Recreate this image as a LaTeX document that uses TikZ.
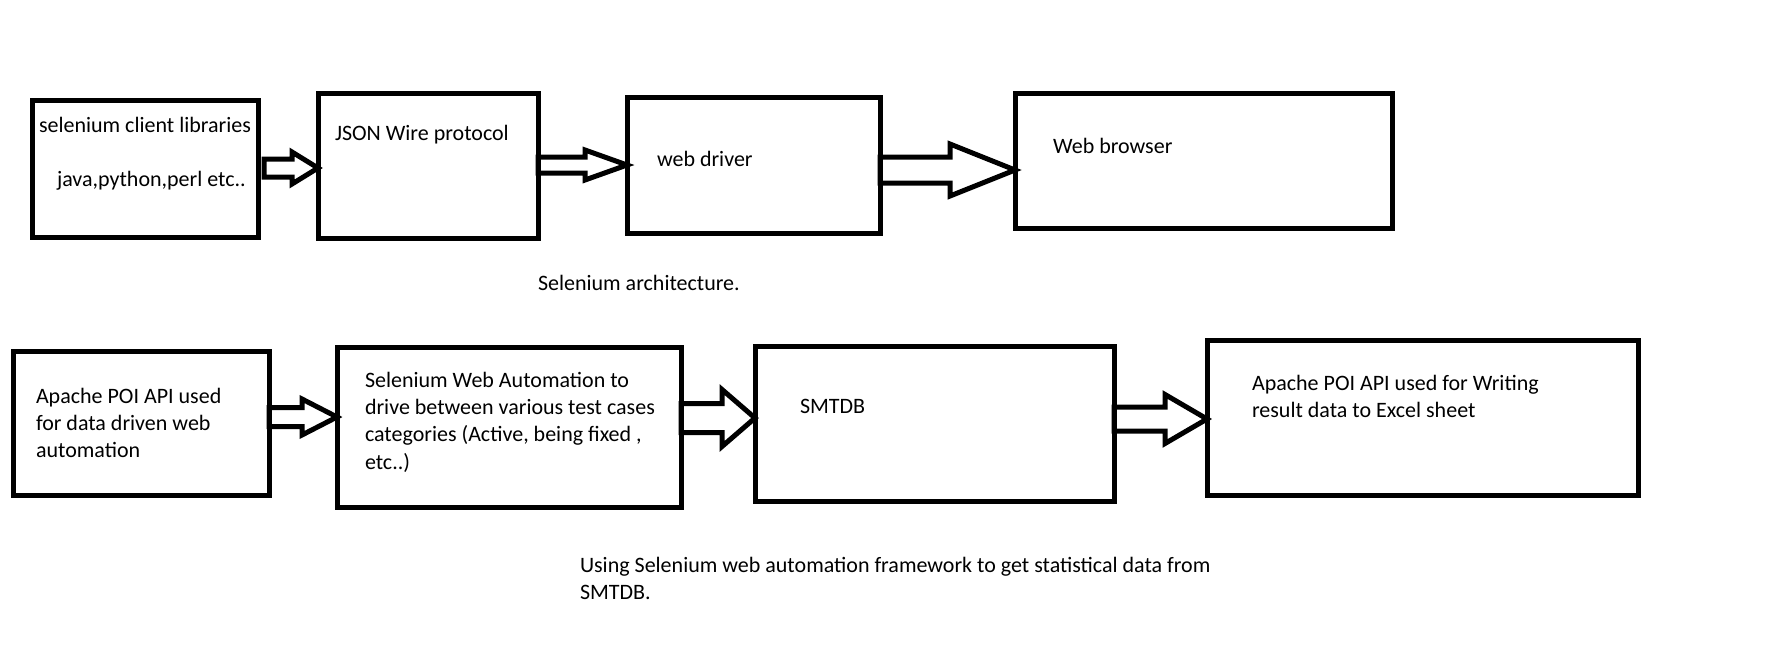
\documentclass[tikz,border=0pt]{standalone}
\usepackage{fontspec}
\setmainfont{Carlito}
\usetikzlibrary{calc}
\begin{document}
\begin{tikzpicture}[x=1pt,y=-1pt,
  box/.style={draw=black,line width=5pt,inner sep=0pt,outer sep=0pt,anchor=north west},
  txt/.style={anchor=base west,inner sep=0pt,outer sep=0pt,font=\fontsize{22}{27}\selectfont},
  blk/.style={draw=black,line width=5pt,line join=miter}]
\useasboundingbox[fill=white] (0,0) rectangle (1785,648);
% row 1 boxes
\node[box,minimum width=226pt,minimum height=137pt] (b1) at (32,100) {};
\node[box,minimum width=220pt,minimum height=145pt] (b2) at (318,93) {};
\node[box,minimum width=253pt,minimum height=136pt] (b3) at (627,97) {};
\node[box,minimum width=377pt,minimum height=135pt] (b4) at (1015,93) {};
% row 2 boxes
\node[box,minimum width=256pt,minimum height=144pt] (b5) at (13,351) {};
\node[box,minimum width=344pt,minimum height=160pt] (b6) at (337,347) {};
\node[box,minimum width=359pt,minimum height=155pt] (b7) at (755,346) {};
\node[box,minimum width=431pt,minimum height=155pt] (b8) at (1207,340) {};
% texts row 1
\node[txt] (t1a) at (39,132) {selenium client libraries};
\node[txt] (t1b) at (57,186) {java,python,perl etc..};
\node[txt] (t2) at (335,140) {JSON Wire protocol};
\node[txt] (t3) at (657,166) {web driver};
\node[txt] (t4) at (1053,153) {Web browser};
\node[txt] (cap1) at (538,290) {Selenium architecture.};
% texts row 2
\node[txt] (t5a) at (36,403) {Apache POI API used};
\node[txt] (t5b) at (36,430) {for data driven web};
\node[txt] (t5c) at (36,457) {automation};
\node[txt] (t6a) at (365,387) {Selenium Web Automation to};
\node[txt] (t6b) at (365,414) {drive between various test cases};
\node[txt] (t6c) at (365,441) {categories (Active, being fixed ,};
\node[txt] (t6d) at (365,469) {etc..)};
\node[txt] (t7) at (800,413) {SMTDB};
\node[txt] (t8a) at (1252,390) {Apache POI API used for Writing};
\node[txt] (t8b) at (1252,417) {result data to Excel sheet};
\node[txt] (cap2a) at (580,572) {Using Selenium web automation framework to get statistical data from};
\node[txt] (cap2b) at (580,599) {SMTDB.};
% block arrows: #1 from, #2 to, #3 tail offset, #4 y centre, #5 shaft half, #6 head base x, #7 head half
\newcommand\blkarrow[7]{%
  \draw[blk] let \p1=(#1.east), \p2=(#2.west) in
    ({\x1+#3pt},{-(#4-#5)*1pt}) -- (#6pt,{-(#4-#5)*1pt}) -- (#6pt,{-(#4-#7)*1pt})
    -- (\x2,{-#4*1pt}) -- (#6pt,{-(#4+#7)*1pt}) -- (#6pt,{-(#4+#5)*1pt})
    -- ({\x1+#3pt},{-(#4+#5)*1pt}) -- cycle;}
\blkarrow{b1}{b2}{6}{168}{9}{292}{16}
\blkarrow{b2}{b3}{0}{165}{8}{585}{15}
\blkarrow{b3}{b4}{0}{170}{13}{950}{26}
\blkarrow{b5}{b6}{0}{417}{9.5}{302}{18}
\blkarrow{b6}{b7}{0}{418}{14.5}{722}{28.5}
\blkarrow{b7}{b8}{0}{419}{12}{1165}{24.5}
\end{tikzpicture}
\end{document}
